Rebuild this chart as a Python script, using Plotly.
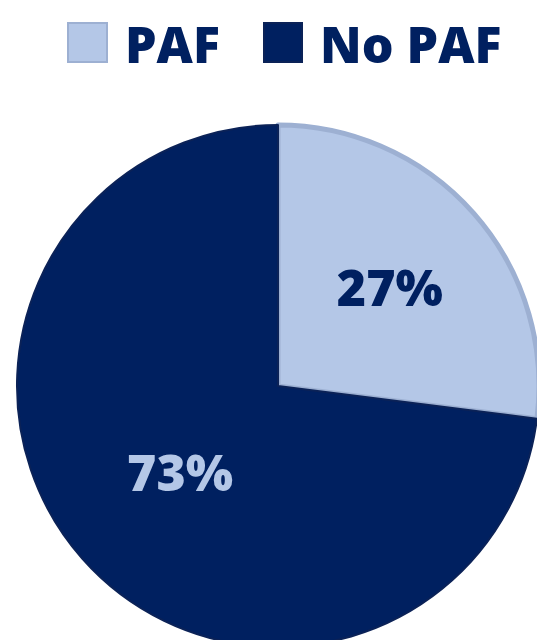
import plotly.graph_objects as go

# ---- data ----
labels = ["PAF", "No PAF"]
values = [27, 73]
colors = ["#B4C7E7", "#002060"]
border_colors = ["#9DB0D2", "#0B2257"]
text_colors = ["#002060", "#B4C7E7"]

W, H = 540, 650
FONT = "Open Sans"

def px(x):
    return x / W

def py(y):
    return 1 - y / H

fig = go.Figure()
fig.add_trace(go.Pie(
    labels=labels,
    values=values,
    sort=False,
    direction="clockwise",
    rotation=0,
    marker=dict(colors=colors, line=dict(color=border_colors, width=[5, 2])),
    textinfo="percent",
    texttemplate="%{percent:.0%}",
    textposition="inside",
    insidetextorientation="horizontal",
    textfont=dict(family=FONT, size=50, color=text_colors, weight=800),
    domain=dict(x=[px(17), px(539)], y=[py(647), py(125)]),
    showlegend=False,
    hoverinfo="label+percent",
))

# custom large legend built from the category list
sq_x = [(68, 107), (264, 302)]
txt_x = [123, 318]
for i, lab in enumerate(labels):
    x0, x1 = sq_x[i]
    fig.add_shape(type="rect", xref="paper", yref="paper",
                  x0=px(x0), x1=px(x1), y0=py(62), y1=py(23),
                  fillcolor=colors[i], line=dict(color=border_colors[i], width=2))
    fig.add_annotation(text=lab, xref="paper", yref="paper",
                       x=px(txt_x[i]), y=py(44), xanchor="left", yanchor="middle",
                       showarrow=False,
                       font=dict(family=FONT, size=50, color="#002060", weight=800))

fig.update_layout(
    width=W, height=H,
    margin=dict(l=0, r=0, t=0, b=0),
    paper_bgcolor="white",
    plot_bgcolor="white",
)

fig.write_html("out.html", post_script="document.body.style.overflow='hidden';document.documentElement.style.overflow='hidden';")
